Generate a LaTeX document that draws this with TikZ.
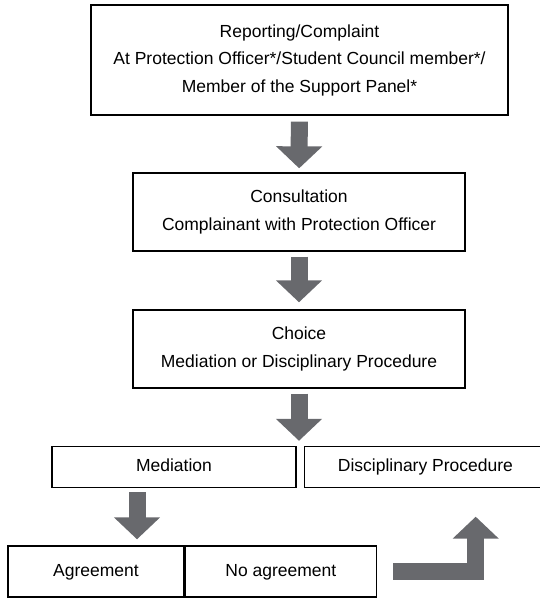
\documentclass[tikz,border=0pt]{standalone}
\usepackage{fontspec}
\setmainfont{Liberation Sans}
\usetikzlibrary{arrows.meta, positioning}
\definecolor{arrowgray}{RGB}{104,105,109}

\begin{document}
\begin{tikzpicture}[
        x=1pt, y=1pt,
        box/.style={rectangle, draw, line width=1.4pt, inner sep=0pt, align=center,
            font=\fontsize{17.5}{27.5}\selectfont},
        onerow/.style={box, text height=13pt, text depth=4pt},
        bigarrow/.style={draw=arrowgray, line width=17pt,
            -{Triangle[width=45pt, length=22pt]}, shorten <=5pt, shorten >=5pt}
    ]
    \useasboundingbox (0,0) rectangle (540,-598);

    \node[box, minimum width=417pt, minimum height=110pt] (report) at (299.5,-60) {
        Reporting/Complaint\\
        At Protection Officer*/Student Council member*/\\
        Member of the Support Panel*};
    \node[box, minimum width=332pt, minimum height=78pt] (consult) at (299,-212) {
        Consultation\\
        Complainant with Protection Officer};
    \node[box, minimum width=332pt, minimum height=78pt] (choice) at (299,-349) {
        Choice\\
        Mediation or Disciplinary Procedure};
    \node[onerow, minimum width=244pt, minimum height=41pt] (mediation) at (174,-467) {Mediation};
    \node[onerow, minimum width=242pt, minimum height=41pt, right=7pt of mediation] (disc) {Disciplinary Procedure};
    \node[onerow, minimum width=176pt, minimum height=51pt] (agreement) at (96,-571.5) {Agreement};
    \node[onerow, minimum width=191pt, minimum height=51pt, right=0pt of agreement] (noagree) {No agreement};

    \draw[bigarrow, shorten <=6pt, shorten >=4pt] (report) -- (consult);
    \draw[bigarrow, shorten >=7pt] (consult) -- (choice);
    \draw[bigarrow] (choice.south) -- (choice.south |- mediation.north);
    \draw[bigarrow, shorten <=4pt, shorten >=6pt] ([xshift=-37pt]mediation.south)
        -- ([xshift=-37pt]mediation.south |- agreement.north);
    \draw[bigarrow, line width=16.5pt, shorten <=16pt, shorten >=0pt] (noagree.east)
        -| ([xshift=172pt, yshift=-28.5pt]disc.south west);
\end{tikzpicture}
\end{document}
